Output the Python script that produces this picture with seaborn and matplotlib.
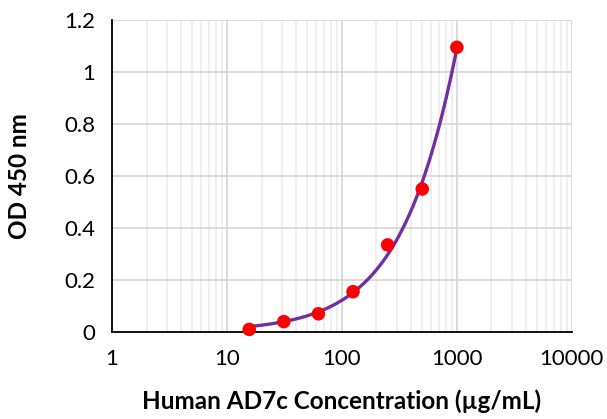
import numpy as np
import pandas as pd
import matplotlib
matplotlib.use("Agg")
import matplotlib.pyplot as plt
import seaborn as sns
from matplotlib.ticker import FixedLocator, LogLocator, NullFormatter, FuncFormatter

conc = [15.625, 31.25, 62.5, 125, 250, 500, 1000]
od = [0.010, 0.040, 0.070, 0.155, 0.335, 0.550, 1.095]
x_ticks = [1, 10, 100, 1000, 10000]
y_ticks = [0, 0.2, 0.4, 0.6, 0.8, 1.0, 1.2]

sns.set_theme(style="white")
plt.rcParams['font.family'] = ['Lato', 'DejaVu Sans']
plt.rcParams['text.color'] = 'black'
plt.rcParams['axes.labelcolor'] = 'black'
plt.rcParams['xtick.color'] = 'black'
plt.rcParams['ytick.color'] = 'black'

df = pd.DataFrame({"conc": conc, "od": od})
coef = np.polyfit(df["conc"], df["od"], 2)
xs = np.logspace(np.log10(conc[0]), np.log10(conc[-1]), 300)
fit = pd.DataFrame({"conc": xs, "od": np.polyval(coef, xs)})

fig = plt.figure(figsize=(6.07, 4.19), dpi=100)
ax = fig.add_axes([0.1845, 0.2076, 0.7575, 0.7446])

ax.set_xscale("log")
ax.set_xlim(1, 10000)
ax.set_ylim(0, 1.2)

ax.xaxis.set_major_locator(FixedLocator(x_ticks))
ax.xaxis.set_minor_locator(LogLocator(base=10, subs=np.arange(2, 10)))
ax.xaxis.set_minor_formatter(NullFormatter())
ax.yaxis.set_major_locator(FixedLocator(y_ticks))
ax.grid(True, which="major", axis="both", color="#d9d9d9", linewidth=1.3)
ax.grid(True, which="minor", axis="x", color="#ebebeb", linewidth=1.1)
ax.set_axisbelow(True)

sns.lineplot(data=fit, x="conc", y="od", ax=ax, color="#7030A0", linewidth=2.4, zorder=3)
sns.scatterplot(data=df, x="conc", y="od", ax=ax, color="#FF0000", s=95, edgecolor="none", zorder=4, clip_on=False)

for s in ["top", "right"]:
    ax.spines[s].set_visible(False)
for s in ["left", "bottom"]:
    ax.spines[s].set_color("black")
    ax.spines[s].set_linewidth(1.3)

ax.xaxis.set_major_formatter(FuncFormatter(lambda v, p: f"{int(v)}"))
ax.yaxis.set_major_formatter(FuncFormatter(lambda v, p: f"{v:g}"))
ax.tick_params(axis="both", which="major", direction="out", length=6, width=1.3, color="black", labelsize=16, pad=6)
ax.tick_params(axis="x", which="minor", length=0)

ax.set_xlabel("Human AD7c Concentration (µg/mL)", fontsize=17.5, fontweight="bold", labelpad=15)
ax.set_ylabel("OD 450 nm", fontsize=17.5, fontweight="bold", labelpad=24)

fig.savefig("out.png", dpi=100)
